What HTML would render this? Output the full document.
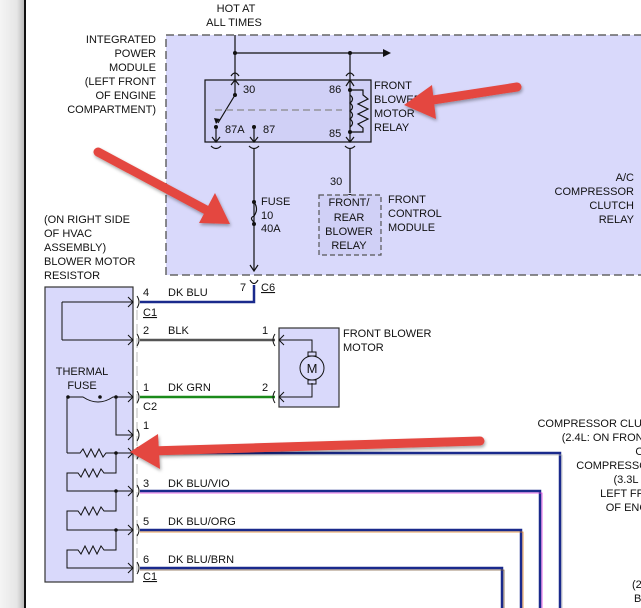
<!DOCTYPE html>
<html><head><style>
html,body{margin:0;padding:0;background:#fff;width:641px;height:608px;overflow:hidden}
svg{display:block}
text{font-family:"Liberation Sans",Arial,sans-serif;font-size:11px;fill:#111}
</style></head><body>
<svg width="641" height="608" viewBox="0 0 641 608" xmlns="http://www.w3.org/2000/svg">
<defs>
<linearGradient id="sh" x1="0" x2="1"><stop offset="0" stop-color="#f4f4f4"/><stop offset="0.7" stop-color="#e6e6e6"/><stop offset="1" stop-color="#bbb"/></linearGradient>
<filter id="ds"><feDropShadow dx="1" dy="2" stdDeviation="1.5" flood-color="#000" flood-opacity="0.35"/></filter>
</defs>
<rect x="0" y="0" width="24" height="608" fill="url(#sh)"/>
<rect x="24" y="0" width="2" height="608" fill="#111"/>

<rect x="166" y="35" width="480" height="240" fill="#d9d9fb" stroke="#666" stroke-width="1.5" stroke-dasharray="8,4"/>
<g text-anchor="end">
<text x="156" y="43">INTEGRATED</text><text x="156" y="57">POWER</text><text x="156" y="71">MODULE</text>
<text x="156" y="85">(LEFT FRONT</text><text x="156" y="99">OF ENGINE</text><text x="156" y="113">COMPARTMENT)</text>
</g>
<text x="236" y="12" text-anchor="middle">HOT AT</text>
<text x="234" y="26" text-anchor="middle">ALL TIMES</text>
<g stroke="#111" fill="none" stroke-width="1.2">
<line x1="235" y1="35" x2="235" y2="80"/>
<line x1="235" y1="53" x2="383" y2="53"/>
<line x1="350" y1="53" x2="350" y2="80"/>
<path d="M231,76 Q235,70 239,76"/><path d="M346,76 Q350,70 354,76"/>
<rect x="205" y="80" width="166" height="62" fill="#d0d0f6"/>
<line x1="235" y1="80" x2="235" y2="95"/>
<line x1="235" y1="95" x2="218" y2="123"/>
<line x1="215" y1="110" x2="342" y2="110" stroke="#888" stroke-dasharray="7,4"/>
<line x1="216" y1="127" x2="216" y2="142"/><line x1="254" y1="127" x2="254" y2="142"/>
<path d="M212,137 L216,142 L220,137"/><path d="M250,137 L254,142 L258,137"/>
<path d="M231,85 L235,80 L239,85"/>
<path d="M211,146 Q216,151 221,146"/><path d="M249,146 Q254,151 259,146"/>
<line x1="254" y1="148" x2="254" y2="270"/>
<path d="M250,265 L254,271 L258,265"/>
<line x1="350" y1="80" x2="350" y2="142"/>
<path d="M346,86 L350,80 L354,86"/><path d="M346,137 L350,142 L354,137"/>
<path d="M350,90 L363,90 L363,95 L368,99 L358,104 L368,109 L358,114 L368,119 L358,124 L363,128 L363,132 L350,132"/>
<path d="M350,95 q5,4 0,8 q5,4 0,8 q5,4 0,8 q5,4 0,8"/>
<path d="M345,146 Q350,151 355,146"/>
<line x1="350" y1="148" x2="350" y2="193"/>
<path d="M346,198 Q350,191 354,198"/>
<rect x="319" y="195" width="62" height="60" stroke="#555" stroke-dasharray="5,3" fill="#d0d0f6"/>
<path d="M254,202 Q259,209 254,216 Q249,218 254,222" fill="none"/>
</g>
<polygon points="383,49 391,53 383,57" fill="#111"/>
<g fill="#111"><circle cx="235" cy="53" r="2"/><circle cx="350" cy="53" r="2"/><circle cx="235" cy="95" r="2"/><circle cx="216" cy="127" r="2"/><circle cx="254" cy="127" r="2"/><circle cx="350" cy="90" r="2"/><circle cx="350" cy="132" r="2"/><circle cx="254" cy="202" r="2"/><circle cx="254" cy="224" r="2"/></g>
<polygon points="214,118 220,119 216,124" fill="#111"/>
<text x="243" y="93">30</text><text x="329" y="93">86</text>
<text x="225" y="133">87A</text><text x="263" y="133">87</text><text x="329" y="137">85</text>
<g><text x="374" y="89">FRONT</text><text x="374" y="103">BLOWER</text><text x="374" y="117">MOTOR</text><text x="374" y="131">RELAY</text></g>
<text x="330" y="185">30</text>
<g text-anchor="middle"><text x="349" y="206">FRONT/</text><text x="349" y="221">REAR</text><text x="349" y="235">BLOWER</text><text x="349" y="249">RELAY</text></g>
<text x="388" y="203">FRONT</text><text x="388" y="217">CONTROL</text><text x="388" y="231">MODULE</text>
<text x="261" y="205">FUSE</text><text x="261" y="219">10</text><text x="261" y="232">40A</text>
<g text-anchor="end"><text x="634" y="181">A/C</text><text x="634" y="195">COMPRESSOR</text><text x="634" y="209">CLUTCH</text><text x="634" y="223">RELAY</text></g>

<path d="M250,280 Q254,287 258,280" stroke="#111" fill="none" stroke-width="1.2"/>
<text x="240" y="291">7</text><text x="261" y="291" text-decoration="underline">C6</text>

<text x="44" y="223">(ON RIGHT SIDE</text><text x="44" y="237">OF HVAC</text><text x="44" y="251">ASSEMBLY)</text><text x="44" y="265">BLOWER MOTOR</text><text x="44" y="279">RESISTOR</text>
<rect x="45" y="287" width="88" height="295" fill="#d9d9fb" stroke="#333" stroke-width="1.2"/>
<text x="82" y="375" text-anchor="middle">THERMAL</text><text x="82" y="389" text-anchor="middle">FUSE</text>

<g fill="none" stroke-width="2.5">
<path d="M140,302 L254,302 L254,285" stroke="#1a2a8c"/>
<line x1="140" y1="340" x2="275" y2="340" stroke="#555"/>
<line x1="140" y1="397" x2="275" y2="397" stroke="#1a8a1a"/>
<path d="M140,453 L560,453 L560,608" stroke="#1a2a8c"/>
<path d="M140,491 L540,491 L540,608" stroke="#1a2a8c"/>
<path d="M140,530 L521,530 L521,608" stroke="#1a2a8c"/>
<path d="M140,568 L502,568 L502,608" stroke="#1a2a8c"/>
</g>
<g fill="none" stroke-width="0.8">
<path d="M140,493 L542,493 L542,608" stroke="#e040e0"/>
<path d="M140,532 L523,532 L523,608" stroke="#e08020"/>
<path d="M140,570 L504,570 L504,608" stroke="#806040"/>
<path d="M140,455 L562,455 L562,608" stroke="#bbb"/>
</g>
<line x1="137" y1="310" x2="137" y2="575" stroke="#bbb" stroke-width="1" stroke-dasharray="10,4"/>
<g stroke="#111" fill="none" stroke-width="1">
<path d="M62,302 L62,340 M62,302 L133,302 M62,340 L133,340"/>
<path d="M67,397 L67,453 M67,397 L83,397 Q98,407 113,397 L133,397 M116,397 L116,435 L133,435"/>
<path d="M67,453 L80,453 l3,-4 l4,8 l4,-8 l4,8 l4,-8 l4,8 l3,-4 L133,453 M116,453 L116,473 L104,473 l-3,-4 l-4,8 l-4,-8 l-4,8 l-4,-8 l-4,8 l-3,-4 L67,473 L67,491 L133,491"/>
<path d="M116,491 L116,511 L104,511 l-3,-4 l-4,8 l-4,-8 l-4,8 l-4,-8 l-4,8 l-3,-4 L67,511 L67,530 L133,530"/>
<path d="M116,530 L116,550 L104,550 l-3,-4 l-4,8 l-4,-8 l-4,8 l-4,-8 l-4,8 l-3,-4 L67,550 L67,568 L133,568"/>
<path d="M128,297 L133,302 L128,307 M128,335 L133,340 L128,345 M128,392 L133,397 L128,402 M128,430 L133,435 L128,440 M128,448 L133,453 L128,458 M128,486 L133,491 L128,496 M128,525 L133,530 L128,535 M128,563 L133,568 L128,573"/>
<path d="M137,296 Q141,302 137,308 M137,334 Q141,340 137,346 M137,391 Q141,397 137,403 M137,429 Q141,435 137,441 M137,447 Q141,453 137,459 M137,485 Q141,491 137,497 M137,524 Q141,530 137,536 M137,562 Q141,568 137,574"/>
</g>
<g fill="#111"><circle cx="68" cy="397" r="1.8"/><circle cx="100" cy="397" r="1.8"/><circle cx="116" cy="397" r="1.8"/><circle cx="116" cy="453" r="1.8"/><circle cx="116" cy="491" r="1.8"/><circle cx="116" cy="530" r="1.8"/></g>
<text x="143" y="296">4</text><text x="168" y="296">DK BLU</text><text x="143" y="316" text-decoration="underline">C1</text>
<text x="143" y="334">2</text><text x="168" y="334">BLK</text><text x="262" y="334">1</text>
<text x="143" y="391">1</text><text x="168" y="391">DK GRN</text><text x="262" y="391">2</text><text x="143" y="410">C2</text>
<text x="143" y="429">1</text>
<text x="143" y="487">3</text><text x="168" y="487">DK BLU/VIO</text>
<text x="143" y="525">5</text><text x="168" y="525">DK BLU/ORG</text>
<text x="143" y="563">6</text><text x="168" y="563">DK BLU/BRN</text><text x="143" y="580" text-decoration="underline">C1</text>

<rect x="279" y="328" width="60" height="79" fill="#d9d9fb" stroke="#333" stroke-width="1.2"/>
<g stroke="#111" fill="none" stroke-width="1">
<path d="M284,335 L279,340 L284,345 M284,392 L279,397 L284,402"/>
<path d="M275,334 Q271,340 275,346 M275,391 Q271,397 275,403"/>
<path d="M279,340 L312,340 L312,352 M279,397 L312,397 L312,383"/>
<circle cx="312" cy="368" r="12" fill="#d9d9fb"/>
<rect x="308" y="352" width="8" height="4"/><rect x="308" y="380" width="8" height="4"/>
</g>
<text x="312" y="373" text-anchor="middle" style="font-size:13px">M</text>
<text x="343" y="337">FRONT BLOWER</text><text x="343" y="351">MOTOR</text>

<g text-anchor="middle">
<text x="601" y="427">COMPRESSOR CLUTCH</text><text x="606" y="441">(2.4L: ON FRONT</text><text x="643" y="455">OF</text>
<text x="616" y="469">COMPRESSOR</text><text x="631" y="483">(3.3L &amp;</text><text x="634" y="497">LEFT FRONT</text><text x="636" y="511">OF ENGINE</text>
</g>
<text x="632" y="588">(2</text><text x="634" y="602">B</text>

<g filter="url(#ds)" fill="#e4463f" stroke="#e4463f" stroke-linecap="round">
<line x1="517" y1="87" x2="420" y2="102" stroke-width="9"/>
<polygon points="404,105 432,85 436,119" stroke="none"/>
<line x1="98" y1="152" x2="210" y2="212" stroke-width="9"/>
<polygon points="230,224 199,223 215,193" stroke="none"/>
<line x1="480" y1="441" x2="150" y2="451" stroke-width="9"/>
<polygon points="130,452 158,434 160,469" stroke="none"/>
</g>
</svg>
</body></html>
